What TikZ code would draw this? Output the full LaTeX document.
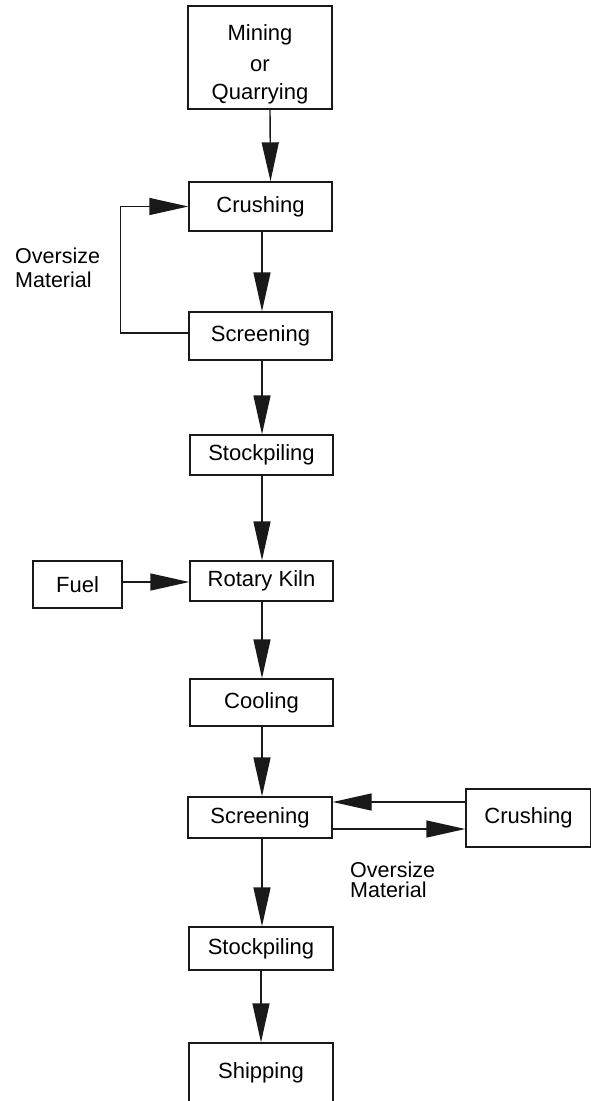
\documentclass[tikz,border=0pt]{standalone}
\usepackage{fontspec}
\setmainfont{Liberation Sans}
\usetikzlibrary{arrows.meta}
\begin{document}
\begin{tikzpicture}[x=1pt,y=-1pt,
  box/.style={draw=black!90,line width=1.4pt,inner sep=0pt,minimum width=#1,
    font=\fontsize{22}{28}\selectfont,text=black,align=center},
  txt/.style={inner sep=0pt,font=\fontsize{22}{28}\selectfont,text=black,align=center},
  lbl/.style={inner sep=0pt,anchor=base west,font=\fontsize{21.5}{24}\selectfont,text=black},
  arr/.style={draw=black!90,line width=1.4pt,-{Triangle[length=39pt,width=17pt]}}]
\useasboundingbox (0,0) rectangle (591,1101);
\clip (0,0) rectangle (591,1101);
\fill[white] (0,0) rectangle (591,1101);
\node[box=144pt,minimum height=103pt] (mine) at (260,57.5) {};
\node[txt] (minetext) at (260,64) {Mining\\[3pt]or\\[0pt]Quarrying};
\node[box=143pt,minimum height=49pt] (crush1) at (260.5,206.5) {Crushing};
\node[box=143pt,minimum height=48pt] (screen1) at (260.5,336) {Screening};
\node[box=143pt,minimum height=40pt] (stock1) at (261.5,455) {Stockpiling};
\node[box=143pt,minimum height=40pt] (kiln) at (261.5,581) {Rotary Kiln};
\node[box=89pt,minimum height=47pt] (fuel) at (77.5,584.5) {Fuel};
\node[box=143pt,minimum height=47pt] (cool) at (261.5,702.5) {Cooling};
\node[box=144pt,minimum height=41pt] (screen2) at (260,817.5) {Screening};
\node[box=125pt,minimum height=58pt] (crush2) at (528.5,818) {Crushing};
\node[box=144pt,minimum height=43pt] (stock2) at (261,948.5) {Stockpiling};
\node[box=144pt,minimum height=60pt] (ship) at (261,1073) {Shipping};
\node[lbl] (ov1) at (15,263) {Oversize};
\node[lbl] (ma1) at (15,287) {Material};
\node[lbl] (ov2) at (350,877) {Oversize};
\node[lbl] (ma2) at (350,897) {Material};
\draw[arr] ([xshift=10pt]mine.south) -- ([xshift=10pt]crush1.north);
\draw[arr] ([xshift=1.5pt]crush1.south) -- ([xshift=1.5pt]screen1.north);
\draw[arr] ([yshift=3pt]screen1.west) -- ++(-68,0) |- (crush1.west);
\draw[arr] ([xshift=1.5pt]screen1.south) -- ([xshift=0.5pt]stock1.north);
\draw[arr] ([xshift=0.5pt]stock1.south) -- ([xshift=0.5pt]kiln.north);
\draw[arr] ([yshift=2.5pt]fuel.east) -- ([yshift=-1pt]kiln.west);
\draw[arr] ([xshift=0.5pt]kiln.south) -- ([xshift=0.5pt]cool.north);
\draw[arr] ([xshift=0.5pt]cool.south) -- ([xshift=2pt]screen2.north);
\draw[arr] ([yshift=16pt]crush2.west) -- ([yshift=15.5pt]screen2.east);
\draw[arr] ([yshift=-11.5pt]screen2.east) -- ([yshift=-11pt]crush2.west);
\draw[arr] ([xshift=2pt]screen2.south) -- ([xshift=1pt]stock2.north);
\draw[arr] ([xshift=0pt]stock2.south) -- ([xshift=0pt]ship.north);
\end{tikzpicture}
\end{document}
